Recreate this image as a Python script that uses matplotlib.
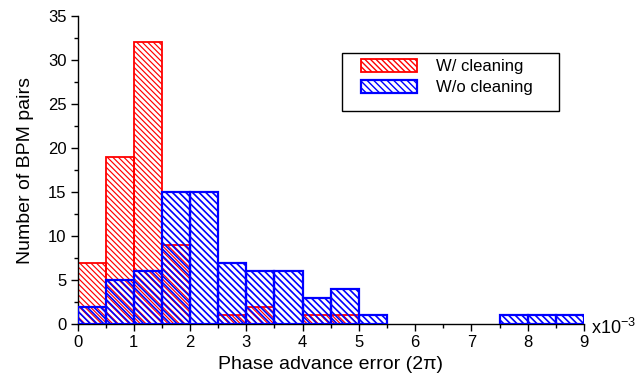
import matplotlib
matplotlib.use("Agg")
import matplotlib.pyplot as plt
from matplotlib.ticker import MultipleLocator
from matplotlib.patches import Rectangle

plt.rcParams['font.family'] = ['Liberation Sans', 'DejaVu Sans']
plt.rcParams['mathtext.default'] = 'regular'

# Histogram bins (left edges, units of 1e-3 x 2pi), width 0.5
bin_left = [0.0, 0.5, 1.0, 1.5, 2.0, 2.5, 3.0, 3.5, 4.0, 4.5, 5.0, 5.5, 6.0, 6.5, 7.0, 7.5, 8.0, 8.5]
bin_width = 0.5
with_cleaning = [7, 19, 32, 9, 0, 1, 2, 0, 1, 1, 0, 0, 0, 0, 0, 0, 0, 0]
without_cleaning = [2, 5, 6, 15, 15, 7, 6, 6, 3, 4, 1, 0, 0, 0, 0, 1, 1, 1]

x_ticks = [0, 1, 2, 3, 4, 5, 6, 7, 8, 9]
y_ticks = [0, 5, 10, 15, 20, 25, 30, 35]

fig = plt.figure(figsize=(6.39, 3.88), dpi=100)
ax = fig.add_axes([0.1213, 0.1642, 0.7926, 0.7953])

red_x = [x for x, c in zip(bin_left, with_cleaning) if c > 0]
red_h = [c for c in with_cleaning if c > 0]
blue_x = [x for x, c in zip(bin_left, without_cleaning) if c > 0]
blue_h = [c for c in without_cleaning if c > 0]

with plt.rc_context({'hatch.linewidth': 0.85}):
    ax.bar(red_x, red_h, width=bin_width, align='edge', facecolor='none',
           edgecolor='#ff0000', linewidth=1.3, hatch='\\' * 6,
           label='W/ cleaning', zorder=2)
with plt.rc_context({'hatch.linewidth': 1.2}):
    ax.bar(blue_x, blue_h, width=bin_width, align='edge', facecolor='none',
           edgecolor='#0000ff', linewidth=1.6, hatch='\\' * 5,
           label='W/o cleaning', zorder=3)

ax.set_xlim(0, 9)
ax.set_ylim(0, 35)
ax.set_xticks(x_ticks)
ax.set_yticks(y_ticks)
ax.xaxis.set_minor_locator(MultipleLocator(0.5))
ax.yaxis.set_minor_locator(MultipleLocator(2.5))
ax.tick_params(which='major', direction='out', length=5, width=1.0, labelsize=12, pad=3)
ax.tick_params(which='minor', direction='out', length=3, width=1.0)

for side in ('top', 'right'):
    ax.spines[side].set_visible(False)
for side in ('left', 'bottom'):
    ax.spines[side].set_linewidth(1.0)

ax.set_xlabel('Phase advance error (2\u03c0)', fontsize=14, labelpad=4)
ax.set_ylabel('Number of BPM pairs', fontsize=14, labelpad=10)

ax.text(1.013, -0.012, 'x10$^{-3}$', transform=ax.transAxes, fontsize=13,
        ha='left', va='center')

# Legend box drawn as a plain rectangle, entries placed inside it
ax.add_patch(Rectangle((0.522, 0.691), 0.429, 0.188, transform=ax.transAxes,
                       facecolor='white', edgecolor='black', linewidth=1.0,
                       zorder=4, clip_on=False))
leg = ax.legend(loc='upper left', bbox_to_anchor=(0.5597, 0.86), fontsize=12,
                frameon=False, handlelength=3.35, handleheight=0.8,
                handletextpad=1.15, borderpad=0, labelspacing=0.35,
                borderaxespad=0)
leg.set_zorder(5)

fig.savefig('out.png', dpi=100)
